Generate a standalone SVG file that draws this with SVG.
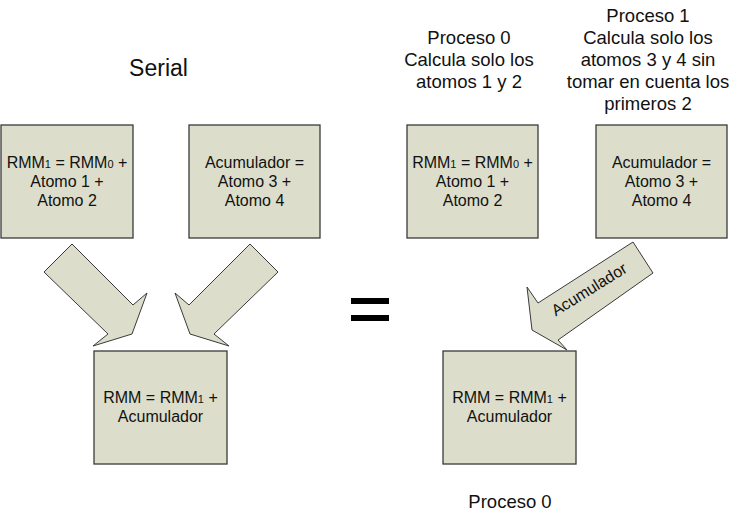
<svg xmlns="http://www.w3.org/2000/svg" width="734" height="514" viewBox="0 0 734 514">
  <style>
    .box { fill: #dcdecb; stroke: #3a3a3a; stroke-width: 1.3; }
    .arrow { fill: #dcdecb; stroke: #3a3a3a; stroke-width: 1; stroke-linejoin: miter; }
    .t { font-family: "Liberation Sans", Arial, sans-serif; fill: #111; text-anchor: middle; }
    .bt { font-size: 16px; }
    .hd { font-size: 18.5px; }
    .sub { font-size: 11px; }
  </style>
  <rect width="734" height="514" fill="#ffffff"/>

  <text class="t" x="158.5" y="76" style="font-size:23px">Serial</text>

  <g id="proc0-label">
    <text class="t hd" x="469" y="44">Proceso 0</text>
    <text class="t hd" x="469" y="66">Calcula solo los</text>
    <text class="t hd" x="469" y="88">atomos 1 y 2</text>
  </g>
  <g id="proc1-label">
    <text class="t hd" x="648" y="22">Proceso 1</text>
    <text class="t hd" x="648" y="44">Calcula solo los</text>
    <text class="t hd" x="648" y="66">atomos 3 y 4 sin</text>
    <text class="t hd" x="648" y="88">tomar en cuenta los</text>
    <text class="t hd" x="648" y="110">primeros 2</text>
  </g>

  <g id="connectors">
    <polygon class="arrow" points="72,244 133,305 147,293 132,334 93,346 108,334 44,272"/>
    <polygon class="arrow" points="250,244 189,305 175,293 190,334 229,346 214,334 278,272"/>
    <polygon class="arrow" points="633,242 653,273 558,340 567,350 532,330 527,287 538,303"/>
    <text class="t" x="592" y="294" style="font-size:16px" transform="rotate(-32 592 294)">Acumulador</text>
  </g>

  <g id="serial-rmm1">
    <rect class="box" x="1" y="125" width="132" height="113"/>
    <text class="t bt" x="67" y="168">RMM<tspan class="sub">1</tspan> = RMM<tspan class="sub">0</tspan> +</text>
    <text class="t bt" x="67" y="187">Atomo 1 +</text>
    <text class="t bt" x="67" y="206">Atomo 2</text>
  </g>
  <g id="serial-acum">
    <rect class="box" x="189" y="125" width="131" height="113"/>
    <text class="t bt" x="254.5" y="168">Acumulador =</text>
    <text class="t bt" x="254.5" y="187">Atomo 3 +</text>
    <text class="t bt" x="254.5" y="206">Atomo 4</text>
  </g>
  <g id="serial-rmm">
    <rect class="box" x="94" y="351" width="133" height="113"/>
    <text class="t bt" x="160.5" y="403">RMM = RMM<tspan class="sub">1</tspan> +</text>
    <text class="t bt" x="160.5" y="422">Acumulador</text>
  </g>

  <g id="equals">
    <rect x="351" y="298" width="38" height="6" fill="#000"/>
    <rect x="351" y="315" width="38" height="6" fill="#000"/>
  </g>

  <g id="par-rmm1">
    <rect class="box" x="407" y="125" width="131" height="113"/>
    <text class="t bt" x="472.5" y="168">RMM<tspan class="sub">1</tspan> = RMM<tspan class="sub">0</tspan> +</text>
    <text class="t bt" x="472.5" y="187">Atomo 1 +</text>
    <text class="t bt" x="472.5" y="206">Atomo 2</text>
  </g>
  <g id="par-acum">
    <rect class="box" x="596" y="125" width="131" height="113"/>
    <text class="t bt" x="661.5" y="168">Acumulador =</text>
    <text class="t bt" x="661.5" y="187">Atomo 3 +</text>
    <text class="t bt" x="661.5" y="206">Atomo 4</text>
  </g>
  <g id="par-rmm">
    <rect class="box" x="443" y="351" width="133" height="113"/>
    <text class="t bt" x="509.5" y="403">RMM = RMM<tspan class="sub">1</tspan> +</text>
    <text class="t bt" x="509.5" y="422">Acumulador</text>
  </g>

  <text class="t hd" x="510" y="508">Proceso 0</text>
</svg>
